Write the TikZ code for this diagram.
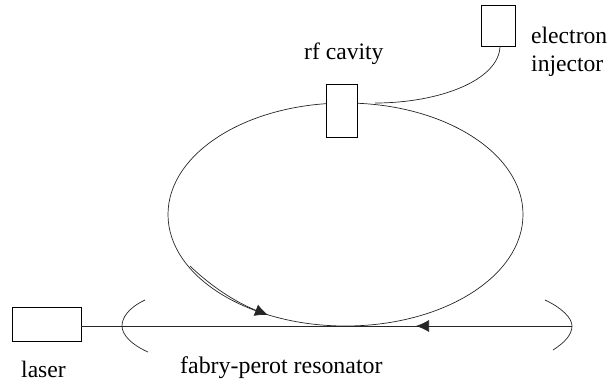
\documentclass[tikz,border=0pt]{standalone}
\usepackage{fontspec}
\setmainfont{Liberation Serif}
\usetikzlibrary{arrows.meta}
\tikzset{
  box/.style={draw,line width=0.7pt,fill=white,inner sep=0pt,minimum width=#1},
  beam/.style={line width=0.7pt,draw=black!85},
  lbl/.style={inner sep=0pt,font=\fontsize{23.6}{28}\selectfont,anchor=base west,align=left},
  tip/.style={-{Latex[length=13pt,width=12pt]}}
}
\begin{document}
\begin{tikzpicture}[x=1pt,y=-1pt]
\useasboundingbox (0,0) rectangle (607,386);
% ring
\draw[beam] (345.5,214.5) ellipse [x radius=177.5, y radius=111.5];
% injection curve
\coordinate (joint) at (375,103);
\node[box=33.5pt,minimum height=41pt] (inj) at (498.3,25.5) {};
\draw[beam] ([xshift=1.7pt]inj.south) .. controls (499,80) and (440,103) .. (joint);
% rf cavity
\node[box=31pt,minimum height=53pt] (rf) at (341.5,110.5) {};
% laser and resonator
\node[box=68.5pt,minimum height=34pt] (laser) at (46.7,324) {};
\coordinate (mr) at (572,326);
\draw[beam] (laser.east |- 0,326) -- (mr);
\draw[beam] (145,300) .. controls (128,308) and (122,318) .. (122,326) .. controls (122,335) and (132,345) .. (148,352);
\draw[beam] (545,300) .. controls (562,308) and (572,318) .. (572,326) .. controls (572,335) and (564,343) .. (553,350);
% arrows
\coordinate (a1s) at (190,266);
\coordinate (a1e) at (268,315);
\draw[beam,tip] (a1s) .. controls (215,290) and (240,304) .. (a1e);
\coordinate (a2s) at (470,326);
\coordinate (a2e) at (416,326);
\draw[beam,tip] (a2s) -- (a2e);
% labels
\node[lbl] (t1) at (304,59) {rf cavity};
\node[lbl] (t2) at (531,43) {electron};
\node[lbl] (t3) at (531,71.5) {injector};
\node[lbl] (t4) at (21,377) {laser};
\node[lbl,font=\fontsize{23.9}{28}\selectfont] (t5) at (180,373) {fabry-perot resonator};
\end{tikzpicture}
\end{document}
